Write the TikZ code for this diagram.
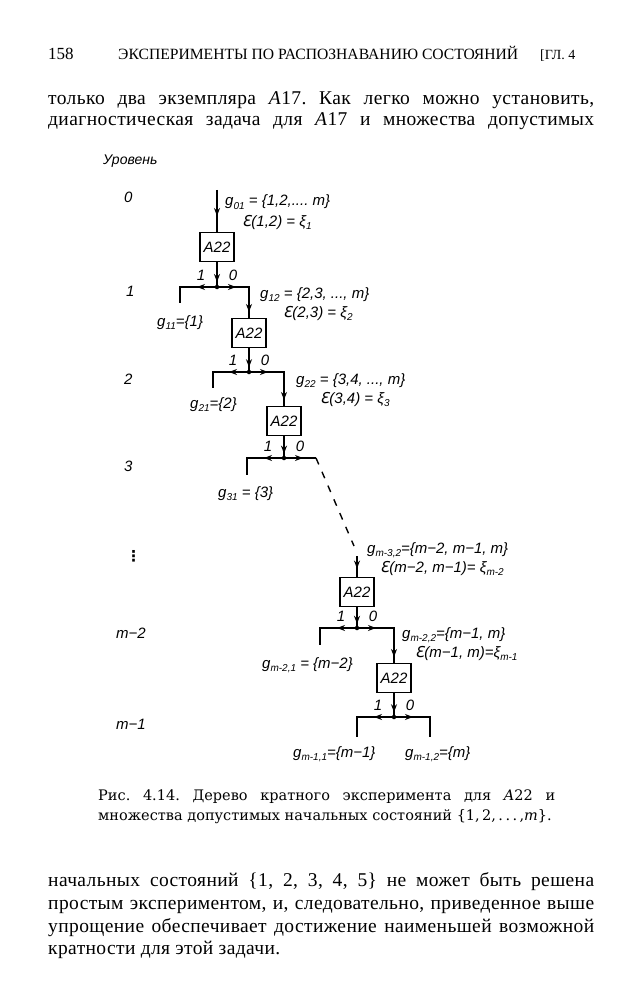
\documentclass[tikz,border=0pt]{standalone}
\usepackage{fontspec}
\usepackage{graphicx}
\setmainfont{Liberation Serif}
\newfontfamily\lab{Liberation Sans}
\newfontfamily\djv{DejaVu Sans}
\newfontfamily\capf{DejaVu Serif}
\usetikzlibrary{arrows.meta,decorations.markings}
\newcommand\labfont{\lab\itshape\fontsize{15}{15}\selectfont}
\newcommand\mysub[1]{\raisebox{-0.4ex}{\fontsize{10}{10}\selectfont #1}}
\newcommand\eps{{\djv\itshape Ɛ}}
\newcommand\bodyfont{\fontsize{19.5}{22}\selectfont\addfontfeature{LetterSpace=2}}
\frenchspacing
\tikzset{
  ztip/.tip={Stealth[length=8pt,width=6pt]},
  box/.style={draw, line width=1.1pt, minimum width=34pt, minimum height=29pt, inner sep=0pt, font=\labfont},
  wire/.style={line width=1.6pt, line join=miter},
  marks/.style={postaction={decorate}, decoration={markings, #1}},
  lbl/.style={anchor=base west, inner sep=0pt, font=\labfont},
  blbl/.style={anchor=base, inner sep=0pt, font=\labfont},
  txt/.style={anchor=base west, inner sep=0pt, font=\bodyfont},
  captxt/.style={anchor=base west, inner sep=0pt, font=\capf\fontsize{14.5}{14.5}\selectfont},
  dot/.style={circle, fill, inner sep=0pt, minimum size=4.5pt},
}
\begin{document}
\begin{tikzpicture}[x=1pt,y=-1pt]
\fill[white] (0,0) rectangle (643,1000);
\path[use as bounding box] (0,0) rectangle (643,1000);

% header
\node[txt, font=\fontsize{17}{17}\selectfont] (pg) at (48,60) {158};
\node[txt, font=\fontsize{14}{14}\selectfont] (hd) at (118,60) {\resizebox{400pt}{!}{\fontsize{14}{14}\selectfont ЭКСПЕРИМЕНТЫ ПО РАСПОЗНАВАНИЮ СОСТОЯНИЙ}};
\node[txt, font=\fontsize{14}{14}\selectfont] (ch) at (540,60) {[ГЛ. 4};

% top text
\node[txt] (t1) at (48,105) {\makebox[546pt][s]{только два экземпляра \textit{A}17. Как легко можно установить,}};
\node[txt] (t2) at (48,126) {\makebox[546pt][s]{диагностическая задача для \textit{A}17 и множества допустимых}};

% level labels
\node[lbl, font=\lab\itshape\fontsize{14}{14}\selectfont] (lv) at (103,165) {Уровень};
\node[lbl] (lv0) at (124,203) {0};
\node[lbl] (lv1) at (126,296) {1};
\node[lbl] (lv2) at (124,384) {2};
\node[lbl] (lv3) at (124,471) {3};
\node[lbl, font=\djv\bfseries\fontsize{15}{15}\selectfont] (lvd) at (126,561) {⋮};
\node[lbl] (lvm2) at (116,638) {m−2};
\node[lbl] (lvm1) at (116,729) {m−1};

% boxes
\node[box] (b1) at (217,247) {A22};
\node[box] (b2) at (249,333) {A22};
\node[box] (b3) at (284,421) {A22};
\node[box] (b4) at (357,592) {A22};
\node[box] (b5) at (394,678) {A22};

% junctions
\node[dot] (j1) at (217,287) {};
\node[dot] (j2) at (249,372) {};
\node[dot] (j3) at (284,458) {};
\node[dot] (j4) at (357,628) {};
\node[dot] (j5) at (394,717) {};

% coordinates
\coordinate (s0) at (217,190);
\coordinate (l1) at (180,303);
\coordinate (l2) at (213,388);
\coordinate (l3) at (247,475);
\coordinate (l4) at (320,645);
\coordinate (l5) at (357,737);
\coordinate (r5) at (430,737);
\coordinate (r3) at (316,458);
\coordinate (d3) at (354,546);
\coordinate (d4) at (357,556);

% connectors
\draw[wire, marks={mark=at position 0.62 with {\arrow{ztip}}}] (s0) -- (b1.north);
\foreach \b/\j in {b1/j1,b2/j2,b3/j3,b4/j4,b5/j5}{
  \draw[wire, marks={mark=at position 0.8 with {\arrow{ztip}}}] (\b.south) -- (\j.center);
}
\foreach \j/\l in {j1/l1,j2/l2,j3/l3,j4/l4,j5/l5}{
  \draw[wire, marks={mark=at position 20pt with {\arrow{ztip}}}] (\j.center) -| (\l);
}
\foreach \j/\b in {j1/b2,j2/b3,j4/b5}{
  \draw[wire, marks={mark=at position 19pt with {\arrow{ztip}}, mark=at position -6pt with {\arrow{ztip}}}] (\j.center) -| (\b.north);
}
\draw[wire, marks={mark=at position 19pt with {\arrow{ztip}}}] (j3.center) -- (r3);
\draw[wire, marks={mark=at position 19pt with {\arrow{ztip}}}] (j5.center) -| (r5);
\draw[line width=1.4pt, dash pattern=on 7pt off 8pt] (r3) -- (d3);
\draw[wire, marks={mark=at position 0.6 with {\arrow{ztip}}}] (d4) -- (b4.north);

% branch labels
\foreach \j in {j1,j2,j3,j4,j5}{
  \node[blbl] at ([xshift=-16pt,yshift=7pt]\j) {1};
  \node[blbl] at ([xshift=16pt,yshift=7pt]\j) {0};
}

% set labels
\node[lbl] (g01) at (225,206) {g\mysub{01} = \{1,2,.... m\}};
\node[lbl] (e1) at (242,226) {\eps(1,2) = ξ\mysub{1}};
\node[lbl] (g12) at (260,298) {g\mysub{12} = \{2,3, ..., m\}};
\node[lbl] (e2) at (283,317) {\eps(2,3) = ξ\mysub{2}};
\node[lbl] (g11) at (157,326) {g\mysub{11}=\{1\}};
\node[lbl] (g22) at (296,384) {g\mysub{22} = \{3,4, ..., m\}};
\node[lbl] (e3) at (320,403) {\eps(3,4) = ξ\mysub{3}};
\node[lbl] (g21) at (190,408) {g\mysub{21}=\{2\}};
\node[lbl] (g31) at (218,497) {g\mysub{31} = \{3\}};
\node[lbl] (gm32) at (367,553) {g\mysub{m-3,2}=\{m−2, m−1, m\}};
\node[lbl] (em2) at (380,572) {\eps(m−2, m−1)= ξ\mysub{m-2}};
\node[lbl] (gm22) at (402,638) {g\mysub{m-2,2}=\{m−1, m\}};
\node[lbl] (em1) at (415,657) {\eps(m−1, m)=ξ\mysub{m-1}};
\node[lbl] (gm21) at (262,668) {g\mysub{m-2,1} = \{m−2\}};
\node[lbl] (gm11) at (293,757) {g\mysub{m-1,1}=\{m−1\}};
\node[lbl] (gm12) at (405,757) {g\mysub{m-1,2}=\{m\}};

% caption
\node[captxt] (c1) at (98,800) {\makebox[457pt][s]{Рис. 4.14. Дерево кратного эксперимента для \textit{A}22 и}};
\node[captxt] (c2) at (98,820) {множества допустимых начальных состояний \{1,\,2,\,.\,.\,.\,,\textit{m}\}.};

% bottom text
\node[txt] (p1) at (48,886) {\makebox[546pt][s]{начальных состояний \{1, 2, 3, 4, 5\} не может быть решена}};
\node[txt] (p2) at (48,909) {\makebox[546pt][s]{простым экспериментом, и, следовательно, приведенное выше}};
\node[txt] (p3) at (48,932) {\makebox[546pt][s]{упрощение обеспечивает достижение наименьшей возможной}};
\node[txt] (p4) at (48,954) {кратности для этой задачи.};
\end{tikzpicture}
\end{document}
